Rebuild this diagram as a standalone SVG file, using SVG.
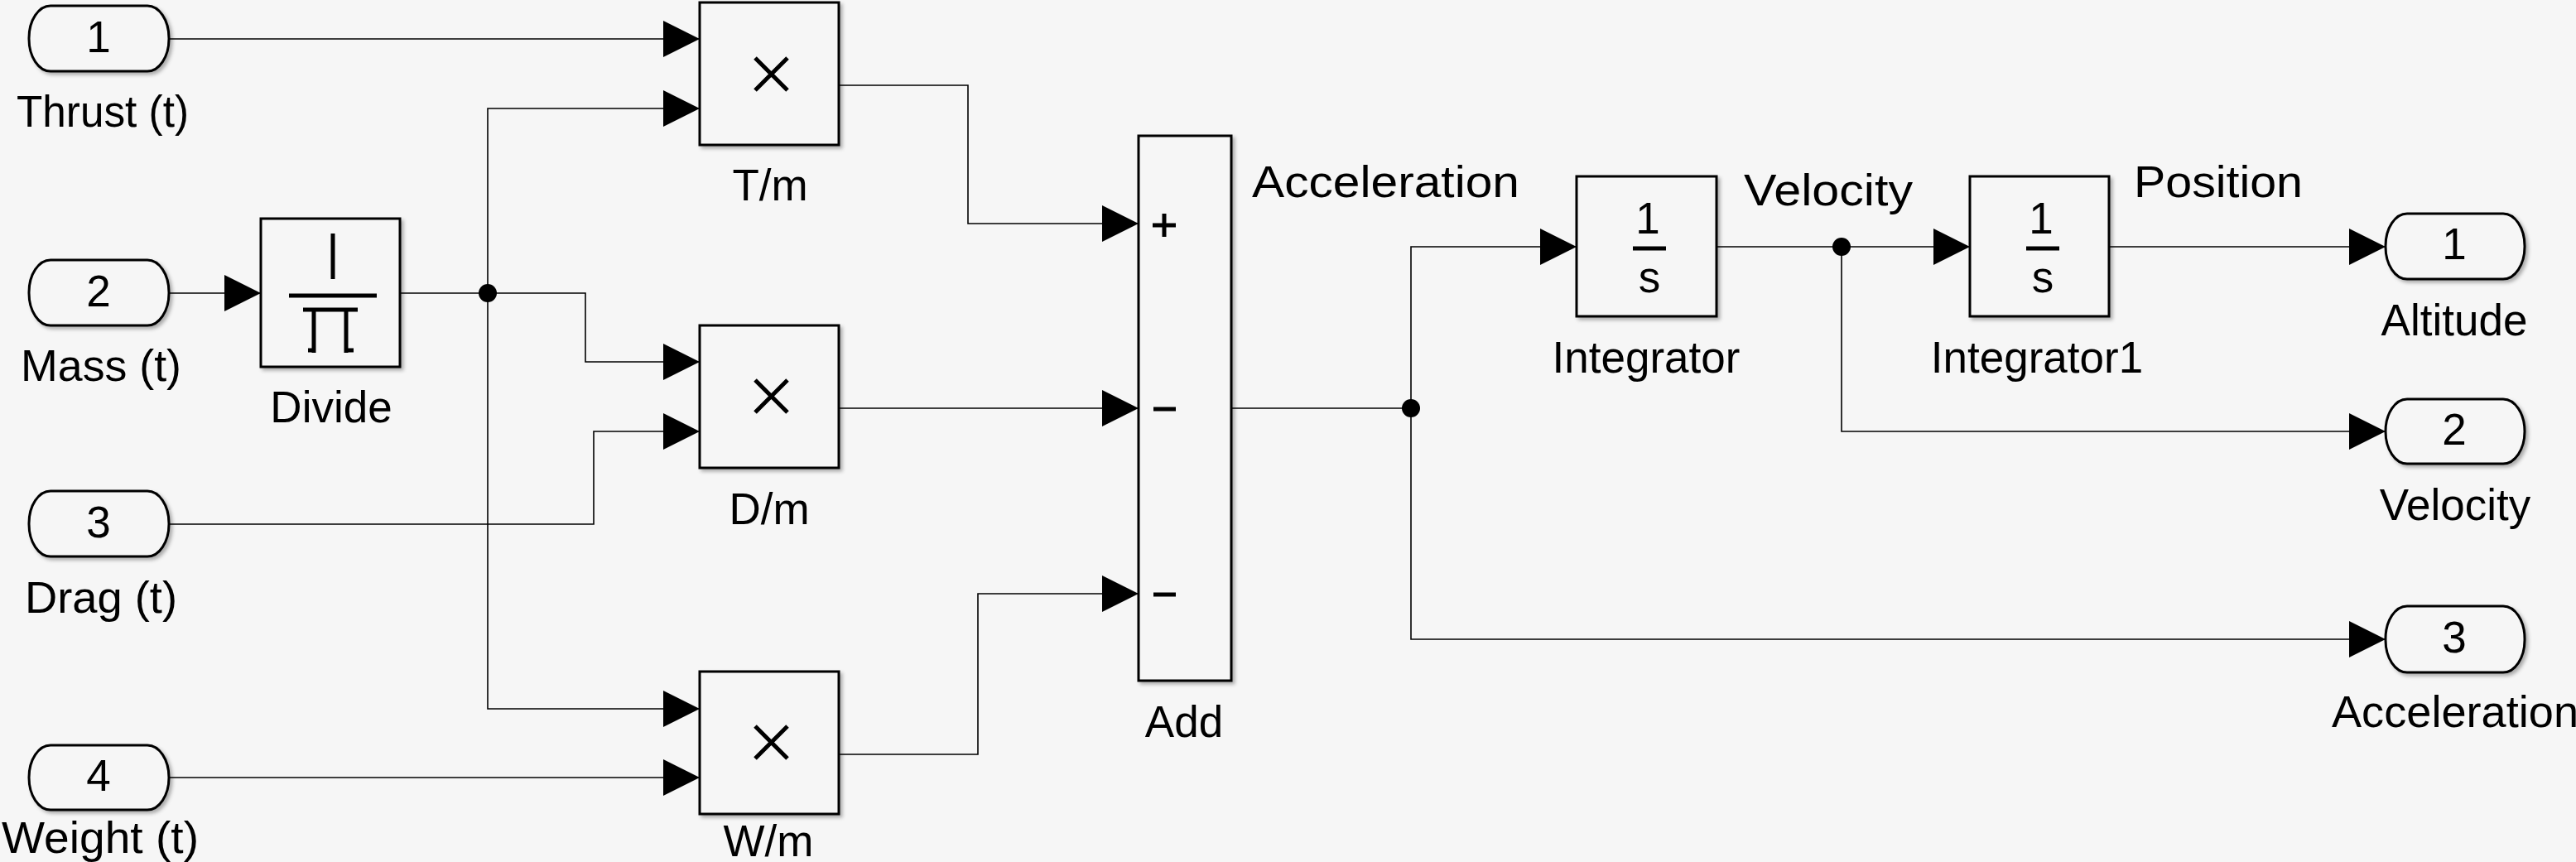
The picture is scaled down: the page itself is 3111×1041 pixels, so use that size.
<svg xmlns="http://www.w3.org/2000/svg" width="3111" height="1041" viewBox="0 0 3111 1041">
<style>
text{font-family:"Liberation Sans",Arial,sans-serif;font-size:53px;fill:#000}
.lbl{text-anchor:middle}
.blk{fill:#f6f6f6;stroke:#000;stroke-width:3;filter:url(#sh)}
.port{fill:#f6f6f6;stroke:#000;stroke-width:3;filter:url(#sh)}
.ln{fill:none;stroke:#000;stroke-width:1.6;marker-end:url(#ah)}
.lnn{fill:none;stroke:#000;stroke-width:1.6}
.ic{fill:none;stroke:#000;stroke-width:5}
.dot{fill:#000}
</style>
<defs>
<filter id="sh" x="-10%" y="-10%" width="130%" height="130%">
<feDropShadow dx="3" dy="3" stdDeviation="2" flood-color="#000" flood-opacity="0.3"/>
</filter>
<marker id="ah" markerUnits="userSpaceOnUse" markerWidth="44" markerHeight="44" refX="44" refY="22" orient="auto" viewBox="0 0 44 44">
<path d="M0,0 L44,22 L0,44 Z" fill="#000"/>
</marker>
</defs>
<rect x="0" y="0" width="3111" height="1041" fill="#f6f6f6"/>

<g id="connectors">
<path class="ln" d="M204,47 H845"/>
<path class="ln" d="M204,354 H315"/>
<path class="lnn" d="M483,354 H589"/>
<path class="ln" d="M589,354 V131 H845"/>
<path class="ln" d="M589,354 V856 H845"/>
<path class="ln" d="M589,354 H707 V437 H845"/>
<path class="ln" d="M204,633 H717 V521 H845"/>
<path class="ln" d="M204,939 H845"/>
<path class="ln" d="M1013,103 H1169 V270 H1375"/>
<path class="ln" d="M1013,493 H1375"/>
<path class="ln" d="M1013,911 H1181 V717 H1375"/>
<path class="lnn" d="M1487,493 H1704"/>
<path class="ln" d="M1704,493 V298 H1904"/>
<path class="ln" d="M1704,493 V772 H2881"/>
<path class="ln" d="M2073,298 H2379"/>
<path class="ln" d="M2224,298 V521 H2881"/>
<path class="ln" d="M2547,298 H2881"/>
<circle class="dot" cx="589" cy="354" r="11"/>
<circle class="dot" cx="1704" cy="493" r="11"/>
<circle class="dot" cx="2224" cy="298" r="11"/>
<text x="1512" y="238" textLength="323" lengthAdjust="spacingAndGlyphs">Acceleration</text>
<text x="2106" y="248" textLength="204" lengthAdjust="spacingAndGlyphs">Velocity</text>
<text x="2577" y="238" textLength="204" lengthAdjust="spacingAndGlyphs">Position</text>
</g>

<g id="in1">
<rect class="port" x="35" y="7" width="169" height="79" rx="26" ry="39"/>
<text class="lbl" x="119" y="63">1</text>
<text class="lbl" x="124" y="153" textLength="208" lengthAdjust="spacingAndGlyphs">Thrust (t)</text>
</g>
<g id="in2">
<rect class="port" x="35" y="314" width="169" height="79" rx="26" ry="39"/>
<text class="lbl" x="119" y="370">2</text>
<text class="lbl" x="122" y="460" textLength="194" lengthAdjust="spacingAndGlyphs">Mass (t)</text>
</g>
<g id="in3">
<rect class="port" x="35" y="593" width="169" height="79" rx="26" ry="39"/>
<text class="lbl" x="119" y="649">3</text>
<text class="lbl" x="122" y="740" textLength="184" lengthAdjust="spacingAndGlyphs">Drag (t)</text>
</g>
<g id="in4">
<rect class="port" x="35" y="900" width="169" height="78" rx="26" ry="39"/>
<text class="lbl" x="119" y="955">4</text>
<text class="lbl" x="121" y="1030" textLength="238" lengthAdjust="spacingAndGlyphs">Weight (t)</text>
</g>

<g id="divide">
<rect class="blk" x="315" y="264" width="168" height="179"/>
<path class="ic" d="M402,282 V337 M349,357 H455 M366,374 H432 M379,374 V426 M418,374 V426 M372,423 H381 M416,423 H427"/>
<text class="lbl" x="400" y="510">Divide</text>
</g>

<g id="tm">
<rect class="blk" x="845" y="3" width="168" height="172"/>
<path class="ic" d="M912,70 L951,109 M951,70 L912,109"/>
<text class="lbl" x="930" y="242">T/m</text>
</g>
<g id="dm">
<rect class="blk" x="845" y="393" width="168" height="172"/>
<path class="ic" d="M912,459 L951,498 M951,459 L912,498"/>
<text class="lbl" x="929" y="633">D/m</text>
</g>
<g id="wm">
<rect class="blk" x="845" y="811" width="168" height="172"/>
<path class="ic" d="M912,877 L951,916 M951,877 L912,916"/>
<text class="lbl" x="928" y="1034">W/m</text>
</g>

<g id="add">
<rect class="blk" x="1375" y="164" width="112" height="658"/>
<path class="ic" d="M1392,272 H1420 M1406,258 V286 M1393,494 H1420 M1393,718 H1420"/>
<text class="lbl" x="1430" y="890">Add</text>
</g>

<g id="integrator">
<rect class="blk" x="1904" y="213" width="169" height="169"/>
<text class="lbl" x="1990" y="282">1</text>
<path class="ic" d="M1972,300 H2012"/>
<text class="lbl" x="1992" y="353">s</text>
<text class="lbl" x="1988" y="450">Integrator</text>
</g>
<g id="integrator1">
<rect class="blk" x="2379" y="213" width="168" height="169"/>
<text class="lbl" x="2465" y="282">1</text>
<path class="ic" d="M2447,300 H2487"/>
<text class="lbl" x="2467" y="353">s</text>
<text class="lbl" x="2460" y="450">Integrator1</text>
</g>

<g id="out1">
<rect class="port" x="2881" y="258" width="168" height="79" rx="26" ry="39"/>
<text class="lbl" x="2964" y="313">1</text>
<text class="lbl" x="2964" y="405">Altitude</text>
</g>
<g id="out2">
<rect class="port" x="2881" y="482" width="168" height="78" rx="26" ry="39"/>
<text class="lbl" x="2964" y="537">2</text>
<text class="lbl" x="2965" y="628">Velocity</text>
</g>
<g id="out3">
<rect class="port" x="2881" y="732" width="168" height="80" rx="26" ry="39"/>
<text class="lbl" x="2964" y="788">3</text>
<text class="lbl" x="2965" y="878" textLength="298" lengthAdjust="spacingAndGlyphs">Acceleration</text>
</g>
</svg>
